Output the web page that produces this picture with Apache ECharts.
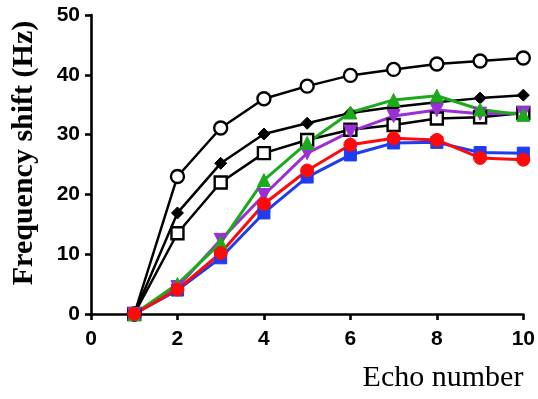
<!DOCTYPE html>
<html><head><meta charset="utf-8">
<script src="https://cdn.jsdelivr.net/npm/echarts@6/dist/echarts.min.js"></script>
<style>html,body{margin:0;padding:0;background:#fff}#c{width:538px;height:399px}</style>
</head><body><div id="c"></div>
<script>
const echoNumbers = [1,2,3,4,5,6,7,8,9,10];
const openCircle = [0,23.0,31.1,36.0,38.1,39.9,40.9,41.8,42.3,42.8];
const filledDiamond = [0,16.9,25.2,30.1,31.9,33.6,34.6,35.4,36.1,36.6];
const openSquare = [0,13.5,22.0,26.9,29.1,30.8,31.6,32.7,32.9,33.6];
const blueSquare = [0,4.0,9.4,16.9,22.9,26.6,28.6,28.7,27.0,26.9];
const purpleTriangle = [0,4.5,12.4,19.9,26.9,30.5,33.1,34.1,33.5,33.6];
const greenTriangle = [0,5.0,11.9,22.4,28.6,33.7,35.8,36.5,34.2,33.3];
const redCircle = [0,4.1,10.2,18.4,24.0,28.3,29.4,29.1,26.1,25.8];
const xTicks = [0,2,4,6,8,10];
const yTicks = [0,10,20,30,40,50];

const pairs = arr => echoNumbers.map((x,i)=>[x,arr[i]]);
function mk(name, arr, color, symbol, size, fill, width, extra){
  return Object.assign({
    name, type:'line', data:pairs(arr), symbol, symbolSize:size,
    lineStyle:{color, width:width}, itemStyle:{color:fill, borderColor:color, borderWidth: fill==='#fff'?2.4:1},
    animation:false
  }, extra||{});
}
const chart = echarts.init(document.getElementById('c'));
chart.setOption({
  animation:false,
  grid:{left:91,right:14,top:15,bottom:85},
  xAxis:{type:'value',min:0,max:10,interval:2,splitLine:{show:false},
    axisLine:{lineStyle:{color:'#000',width:2.6}},
    axisTick:{length:6,lineStyle:{color:'#000',width:2.6}},
    axisLabel:{color:'#000',fontFamily:'Liberation Sans',fontWeight:'bold',fontSize:21,margin:15}},
  yAxis:{type:'value',min:0,max:50,interval:10,splitLine:{show:false},
    axisLine:{show:true,lineStyle:{color:'#000',width:2.6}},
    axisTick:{show:true,length:6,lineStyle:{color:'#000',width:2.6}},
    axisLabel:{color:'#000',fontFamily:'Liberation Sans',fontWeight:'bold',fontSize:21,margin:11}},
  graphic:[
    {type:'text',x:24,y:153,rotation:Math.PI/2,style:{text:'Frequency shift (Hz)',font:'bold 30px "Liberation Serif"',fill:'#000',textAlign:'center',textVerticalAlign:'middle'}},
    {type:'text',x:443,y:378,style:{text:'Echo number',font:'30px "Liberation Serif"',fill:'#000',textAlign:'center',textVerticalAlign:'middle'}}
  ],
  series:[
    mk('open circle', openCircle, '#000','circle',13,'#fff',2.5),
    mk('diamond', filledDiamond, '#000','diamond',12,'#000',2.5),
    mk('open square', openSquare, '#000','rect',12,'#fff',2.5),
    mk('blue', blueSquare, '#1f3cf0','rect',12,'#1f3cf0',3),
    mk('purple', purpleTriangle, '#9b2fd6','triangle',13,'#9b2fd6',3,{symbolRotate:180}),
    mk('green', greenTriangle, '#1aaa1a','triangle',13,'#1aaa1a',3),
    mk('red', redCircle, '#ff0a0a','circle',13,'#ff0a0a',3)
  ]
});
</script></body></html>
